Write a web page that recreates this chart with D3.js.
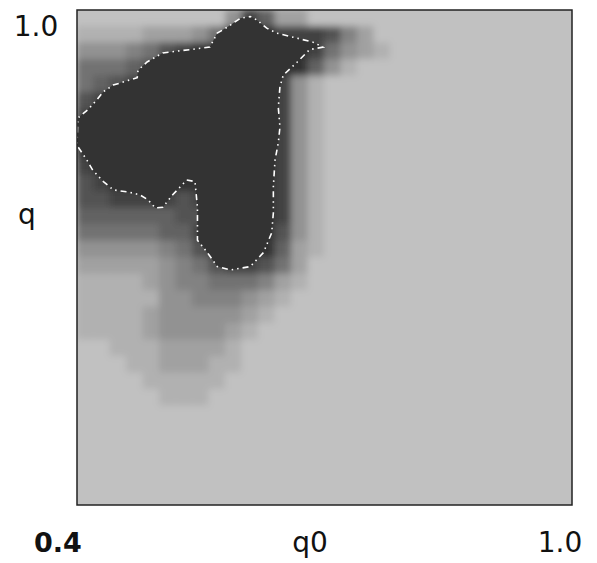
<!DOCTYPE html>
<html>
<head>
<meta charset="utf-8">
<script src="https://cdn.jsdelivr.net/npm/d3@7"></script>
<style>
  body { margin: 0; background: #fff; }
  text { font-family: "DejaVu Sans", sans-serif; fill: #111; }
</style>
</head>
<body>
<svg id="chart"></svg>
<script>
// darkness of each cell, 0 = background, 9 = darkest; rows go from q = 1.0 down to 0.4
let rows = [
  "0000000003862200",
  "11112223589988874200",
  "33345789999999853210",
  "5556799999999963100",
  "567899999999831",
  "789999999999831",
  "899999999999831",
  "999999999999831",
  "999999999999831",
  "899999999999831",
  "789999999999831",
  "778888789999831",
  "666666779999831",
  "555556689999731",
  "333334579999621",
  "2222234578875200",
  "1111234455542100",
  "1111133444321",
  "11112333332100",
  "1111233332100",
  "001112222100",
  "0001122211",
  "000011111",
  "00000111",
  "0", "0", "0", "0", "0", "0"
];
let q0Ticks = ["0.4", "1.0"];
let qTicks = ["1.0"];
// contour of the dark region, [q0, q]
let contour = [
  [0.610, 0.992], [0.598, 0.990], [0.582, 0.979], [0.570, 0.972], [0.561, 0.955],
  [0.537, 0.952], [0.504, 0.948], [0.485, 0.937], [0.474, 0.927], [0.473, 0.918],
  [0.444, 0.909], [0.432, 0.901], [0.424, 0.891], [0.413, 0.879], [0.401, 0.869],
  [0.400, 0.836], [0.404, 0.830], [0.412, 0.818], [0.419, 0.806], [0.432, 0.792],
  [0.444, 0.782], [0.464, 0.779], [0.476, 0.776], [0.486, 0.770], [0.495, 0.760],
  [0.504, 0.761], [0.516, 0.776], [0.533, 0.794], [0.543, 0.792], [0.546, 0.761],
  [0.546, 0.721], [0.558, 0.706], [0.570, 0.689], [0.586, 0.685], [0.610, 0.689],
  [0.626, 0.706], [0.636, 0.730], [0.638, 0.754], [0.638, 0.786], [0.640, 0.818],
  [0.644, 0.839], [0.646, 0.858], [0.644, 0.882], [0.646, 0.907], [0.650, 0.921],
  [0.667, 0.937], [0.682, 0.952], [0.698, 0.955], [0.686, 0.961], [0.662, 0.967],
  [0.642, 0.972], [0.630, 0.978], [0.618, 0.988]
];

let width = 597, height = 563;
let mLeft = 77, mRight = 572, mTop = 10, mBottom = 505;
let nCols = 30, step = 0.02;

let svg = d3.select("#chart").attr("width", width).attr("height", height);

let x = d3.scaleLinear().domain([0.4, 1.0]).range([mLeft, mRight]);
let y = d3.scaleLinear().domain([0.4, 1.0]).range([mBottom, mTop]);
let color = d3.scaleLinear().domain([0, 9]).range(["#c1c1c1", "#333333"]);

let cells = [];
rows.forEach(function(r, i) {
  let s = r.padEnd(nCols, "0");
  for (let j = 0; j < nCols; j++) {
    cells.push({q0: 0.4 + j * step, q: 1.0 - i * step, v: +s[j]});
  }
});

let defs = svg.append("defs");
defs.append("clipPath").attr("id", "plot")
  .append("rect").attr("x", mLeft).attr("y", mTop)
  .attr("width", mRight - mLeft).attr("height", mBottom - mTop);
defs.append("filter").attr("id", "soft")
  .attr("x", -0.05).attr("y", -0.05).attr("width", 1.1).attr("height", 1.1)
  .append("feGaussianBlur").attr("stdDeviation", 3.5).attr("edgeMode", "duplicate");

let plot = svg.append("g").attr("clip-path", "url(#plot)");
plot.append("rect").attr("x", mLeft).attr("y", mTop)
  .attr("width", mRight - mLeft).attr("height", mBottom - mTop)
  .attr("fill", color(0));

plot.append("g").attr("filter", "url(#soft)")
  .selectAll("rect")
  .data(cells)
  .enter()
  .append("rect")
  .attr("x", d => x(d.q0) - 0.5)
  .attr("y", d => y(d.q) - 0.5)
  .attr("width", x(0.4 + step) - x(0.4) + 1)
  .attr("height", y(0.4) - y(0.4 + step) + 1)
  .attr("fill", d => color(d.v));

let line = d3.line().x(d => x(d[0])).y(d => y(d[1])).curve(d3.curveLinearClosed);
plot.append("path")
  .attr("d", line(contour))
  .attr("fill", color(9))
  .attr("stroke", "none");
plot.append("path")
  .attr("d", line(contour))
  .attr("fill", "none")
  .attr("stroke", "#fff")
  .attr("stroke-width", 1.6)
  .attr("stroke-dasharray", "1.5,4,1.5,4,6,4");

svg.append("rect")
  .attr("x", mLeft).attr("y", mTop)
  .attr("width", mRight - mLeft).attr("height", mBottom - mTop)
  .attr("fill", "none").attr("stroke", "#222").attr("stroke-width", 1.5);

// labels
svg.append("text").attr("x", 36).attr("y", 36).attr("text-anchor", "middle")
  .style("font-size", "28px").text(qTicks[0]);
svg.append("text").attr("x", 27).attr("y", 224).attr("text-anchor", "middle")
  .style("font-size", "28px").text("q");
svg.append("text").attr("x", 58).attr("y", 552).attr("text-anchor", "middle")
  .style("font-size", "27px").style("font-weight", "bold").text(q0Ticks[0]);
svg.append("text").attr("x", 310).attr("y", 552).attr("text-anchor", "middle")
  .style("font-size", "28px").text("q0");
svg.append("text").attr("x", 560).attr("y", 552).attr("text-anchor", "middle")
  .style("font-size", "28px").text(q0Ticks[1]);
</script>
</body>
</html>
